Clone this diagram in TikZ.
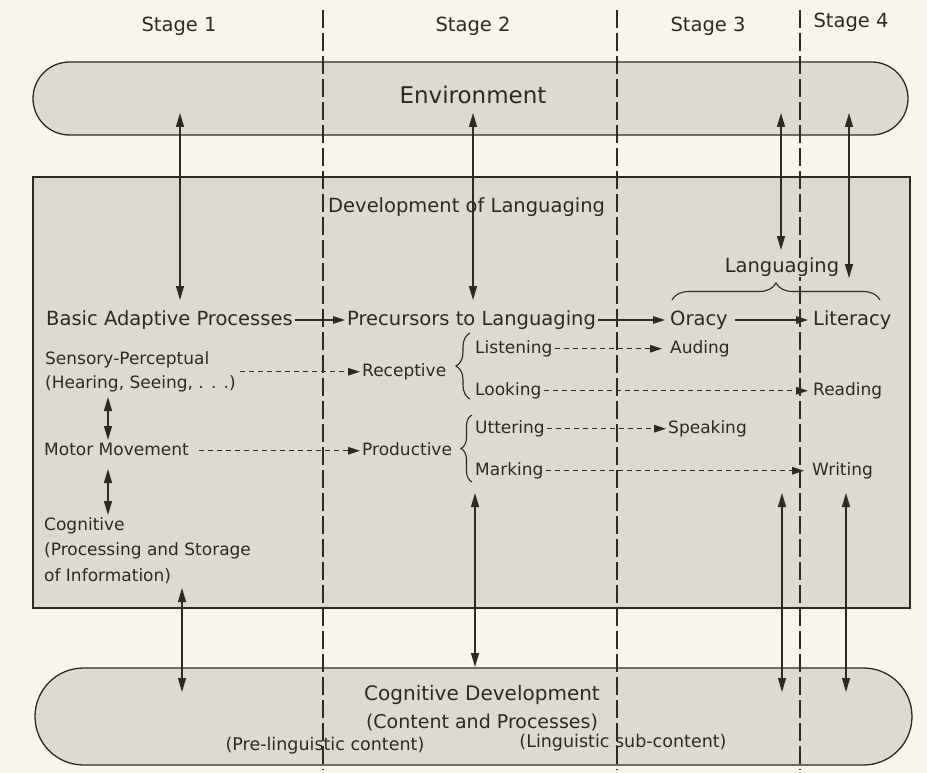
\documentclass[tikz,border=0pt]{standalone}
\usepackage{fontspec}
\setmainfont{DejaVu Sans}
\usetikzlibrary{arrows.meta,decorations.pathreplacing}
\definecolor{paper}{RGB}{247,245,236}
\definecolor{shade}{RGB}{222,218,208}
\definecolor{ink}{RGB}{45,42,38}

\tikzset{
  lbl/.style={inner ysep=0pt, inner xsep=2pt, anchor=base west, text=ink},
  bigtxt/.style={lbl, font=\fontsize{19.5}{22}\selectfont, text height=14.5pt, text depth=4.5pt},
  smalltxt/.style={lbl, font=\fontsize{17}{20}\selectfont, text height=12.5pt, text depth=4pt},
  flow/.style={draw=ink, line width=1.2pt, -{Triangle[length=12pt,width=7.5pt]}},
  dflow/.style={flow, dash pattern=on 5.5pt off 3.5pt},
  twoway/.style={draw=ink, line width=1.2pt, {Triangle[length=14pt,width=8pt]}-{Triangle[length=14pt,width=8pt]}},
  curly/.style={draw=ink, line width=1.1pt, decorate, decoration={brace, amplitude=#1}},
  pill/.style={draw=ink, line width=1.3pt, fill=shade},
  stagesep/.style={draw=ink, line width=1.1pt, dash pattern=on 18pt off 5pt},
}

\begin{document}
\begin{tikzpicture}[x=1pt,y=-1pt]

\fill[paper] (0,0) rectangle (927,773);
\useasboundingbox (0,0) rectangle (927,773);

% environment, languaging box, cognitive development
\draw[pill, rounded corners=36.5pt] (33,62) rectangle (908,135);
\draw[pill] (33,177) rectangle (910,608);
\draw[pill, rounded corners=48.5pt] (35,668) rectangle (912,765);

% stage borders
\draw[stagesep] (323,10) -- (323,770);
\draw[stagesep] (617,10) -- (617,770);
\draw[stagesep] (800,10) -- (800,770);

\node[bigtxt, anchor=base] (st1) at (179,32) {Stage 1};
\node[bigtxt, anchor=base] (st2) at (473,32) {Stage 2};
\node[bigtxt, anchor=base] (st3) at (708,32) {Stage 3};
\node[bigtxt, anchor=base] (st4) at (851,28) {Stage 4};

\node[bigtxt, anchor=base, font=\fontsize{23}{26}\selectfont] (env) at (473,104) {Environment};

\node[bigtxt] (devl) at (326,212) {Development of Languaging};
\node[bigtxt, anchor=base, fill=shade] (lang) at (782,272) {Languaging};

\node[bigtxt] (basic) at (44,325) {Basic Adaptive Processes};
\node[bigtxt] (prec) at (345,325) {Precursors to Languaging};
\node[bigtxt] (oracy) at (668,325) {Oracy};
\node[bigtxt] (lit) at (811,325) {Literacy};

\node[smalltxt] (sens) at (43,364) {Sensory-Perceptual};
\node[smalltxt] (hear) at (43,388) {(Hearing, Seeing, . . .)};
\node[smalltxt] (motor) at (42,455) {Motor Movement};
\node[smalltxt] (cog) at (42,530) {Cognitive};
\node[smalltxt] (proc) at (42,555) {(Processing and Storage};
\node[smalltxt] (info) at (42,581) {of Information)};

\node[smalltxt] (rec) at (360,376) {Receptive};
\node[smalltxt] (prod) at (360,455) {Productive};

\node[smalltxt] (listen) at (473,353) {Listening};
\node[smalltxt] (look) at (473,395) {Looking};
\node[smalltxt] (utter) at (473,433) {Uttering};
\node[smalltxt] (mark) at (473,475) {Marking};

\node[smalltxt] (aud) at (668,353) {Auding};
\node[smalltxt] (read) at (811,395) {Reading};
\node[smalltxt] (speak) at (666,433) {Speaking};
\node[smalltxt] (writ) at (810,475) {Writing};

\node[bigtxt, anchor=base, font=\fontsize{20}{24}\selectfont] (cogdev) at (482,700) {Cognitive Development};
\node[bigtxt, anchor=base, font=\fontsize{19}{22}\selectfont] (cont) at (482,728) {(Content and Processes)};
\node[smalltxt, anchor=base, font=\fontsize{17.5}{20}\selectfont] (prel) at (325,750) {(Pre-linguistic content)};
\node[smalltxt, anchor=base, font=\fontsize{17.5}{20}\selectfont] (ling) at (623,747) {(Linguistic sub-content)};

% braces
\draw[curly=17pt] (672,300) -- (880,300);
\draw[curly=14pt] (470,399) -- (470,333);
\draw[curly=11pt] (472,482) -- (472,415);

% main line
\draw[flow] (basic.east) -- (prec.west);
\draw[flow] (prec.east) -- ([xshift=-3pt]oracy.west);
\draw[flow, shorten <=5pt] (oracy.east) -- ([xshift=-3pt]lit.west);

\draw[dflow] ([xshift=2pt]hear.east |- rec.west) -- (rec.west);
\draw[dflow, shorten <=8pt] (motor.east) -- (prod.west);
\draw[dflow] (listen.east) -- ([xshift=-6pt]aud.west);
\draw[dflow] (look.east) -- ([xshift=-3pt]read.west);
\draw[dflow] (utter.east) -- (speak.west);
\draw[dflow] (mark.east) -- ([xshift=-6pt]writ.west);

% links to environment and cognitive development
\coordinate (e1) at (180,113);
\coordinate (e2) at (473,113);
\coordinate (e3) at (781,113);
\coordinate (e4) at (849,113);
\coordinate (l1) at (180,300);
\coordinate (l2) at (473,300);
\coordinate (l3) at (781,250);
\coordinate (l4) at (849,278);

\draw[twoway] (e1) -- (l1);
\draw[twoway] (e2) -- (l2);
\draw[twoway] (e3) -- (l3);
\draw[twoway] (e4) -- (l4);

\coordinate (s1) at (108,397);
\coordinate (m1) at (108,440);
\coordinate (m2) at (108,469);
\coordinate (c1) at (108,515);
\draw[twoway] (s1) -- (m1);
\draw[twoway] (m2) -- (c1);

\coordinate (i1) at (182,588);
\coordinate (i2) at (475,493);
\coordinate (i3) at (782,493);
\coordinate (i4) at (846,493);
\coordinate (d1) at (182,692);
\coordinate (d2) at (475,667);
\coordinate (d3) at (782,692);
\coordinate (d4) at (846,692);

\draw[twoway] (i1) -- (d1);
\draw[twoway] (i2) -- (d2);
\draw[twoway] (i3) -- (d3);
\draw[twoway] (i4) -- (d4);

\end{tikzpicture}
\end{document}
